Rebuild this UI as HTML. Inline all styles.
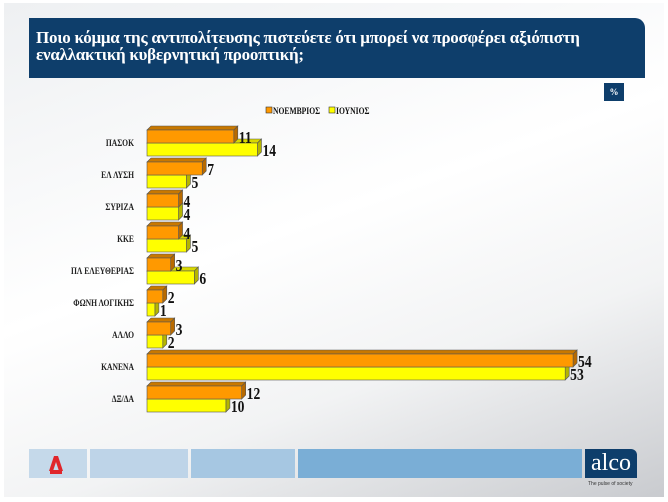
<!DOCTYPE html>
<html><head><meta charset="utf-8">
<style>
body{margin:0;width:668px;height:502px;overflow:hidden;background:#fff;font-family:"Liberation Serif",serif}
#slide{position:absolute;left:4px;top:3px;width:660px;height:494px;background:linear-gradient(160deg,#eef0f2 0%,#ffffff 45%,#f2f3f4 70%,#c9cbcf 100%)}
#title{position:absolute;left:29px;top:18px;width:616px;height:60px;background:#0e3e6b;border-top-right-radius:10px;color:#fff;font-weight:bold;font-size:17px;letter-spacing:-0.25px;line-height:17px;padding:11px 0 0 7px;box-sizing:border-box}
#pct{position:absolute;left:604px;top:83px;width:20px;height:18px;background:#0e3e6b;color:#fff;font-size:9px;font-weight:bold;text-align:center;line-height:18px}
.seg{position:absolute;top:449px;height:29px}
</style></head><body>
<div id="slide"></div>
<div id="title">Ποιο κόμμα της αντιπολίτευσης πιστεύετε ότι μπορεί να προσφέρει αξιόπιστη<br>εναλλακτική κυβερνητική προοπτική;</div>
<div id="pct">%</div>
<svg id="chart" width="668" height="502" style="position:absolute;left:0;top:0"></svg>
<div class="seg" style="left:29px;width:58px;background:#c5d9ea">
<svg width="58" height="29"><path d="M20 22 L25 7 L29 7 L34 22 L30 22 L27 13 L24 22Z" fill="#e0262b"/><rect x="21" y="21" width="12" height="4" fill="#e0262b"/></svg></div>
<div class="seg" style="left:90px;width:98px;background:#bed4e8"></div>
<div class="seg" style="left:191px;width:104px;background:#a6c7e2"></div>
<div class="seg" style="left:298px;width:284px;background:#7aaed6"></div>
<div class="seg" style="left:585px;width:52px;background:#0e3e6b;border-top-right-radius:6px;color:#fff;font-size:24px;text-align:center;line-height:28px">alco</div>
<div style="position:absolute;left:588px;top:481px;font-family:'Liberation Sans',sans-serif;font-size:5px;color:#333">The pulse of society</div>
<script>
const categories=["ΠΑΣΟΚ","ΕΛ ΛΥΣΗ","ΣΥΡΙΖΑ","ΚΚΕ","ΠΛ ΕΛΕΥΘΕΡΙΑΣ","ΦΩΝΗ ΛΟΓΙΚΗΣ","ΑΛΛΟ","ΚΑΝΕΝΑ","ΔΞ/ΔΑ"];
const november=[11,7,4,4,3,2,3,54,12];
const june=[14,5,4,5,6,1,2,53,10];
const seriesNames=["ΝΟΕΜΒΡΙΟΣ","ΙΟΥΝΙΟΣ"];
const svg=document.getElementById('chart');
const NS='http://www.w3.org/2000/svg';
const x0=147,scale=7.89,y0=143,step=32,bh=13,d=4;
const xv=v=>x0+v*scale;
const yc=i=>y0+i*step;
function mk(tag,attrs){const e=document.createElementNS(NS,tag);for(const k in attrs)e.setAttribute(k,attrs[k]);svg.appendChild(e);return e;}
function bar(v,top,front,side,topc,name,label){
  const x1=xv(v);
  const g1=mk('polygon',{points:`${x0},${top} ${x0+d},${top-d} ${x1+d},${top-d} ${x1},${top}`,fill:topc,stroke:'#555','stroke-width':0.6});
  
  const g2=mk('polygon',{points:`${x1},${top} ${x1+d},${top-d} ${x1+d},${top+bh-d} ${x1},${top+bh}`,fill:side,stroke:'#555','stroke-width':0.6});
  
  const r=mk('rect',{x:x0,y:top,width:x1-x0,height:bh,fill:front,stroke:'#555','stroke-width':0.6});
  
  const t=mk('text',{x:x1+d+1,y:top+bh,'font-size':17,'font-weight':'bold','font-family':'Liberation Serif, serif',fill:'#111',transform:`translate(${x1+d+1},0) scale(0.8,1) translate(${-(x1+d+1)},0)`});
  t.textContent=label;
  
}
categories.forEach((c,i)=>{
  const cy=yc(i);
  bar(june[i],cy,'#ffff00','#b5b500','#d8d800','bar-jun-'+i,june[i]);
  bar(november[i],cy-bh,'#ff9900','#b86a00','#c87800','bar-nov-'+i,november[i]);
  const t=mk('text',{x:134,y:cy+3,'text-anchor':'end','font-size':9.5,'font-weight':'bold','font-family':'Liberation Serif, serif',fill:'#222',transform:'translate(134,0) scale(0.8,1) translate(-134,0)'});
  t.textContent=c;
  
});
const lx=[266,329],colors=['#ff9900','#ffff00'];
seriesNames.forEach((n,i)=>{
  const r=mk('rect',{x:lx[i],y:107,width:6,height:6,fill:colors[i],stroke:'#333','stroke-width':0.6});
  
  const t=mk('text',{x:lx[i]+7,y:114,'font-size':9.5,'font-weight':'bold','font-family':'Liberation Serif, serif',fill:'#111',transform:`translate(${lx[i]+7},0) scale(0.8,1) translate(${-(lx[i]+7)},0)`});
  t.textContent=n;
  
});
</script>
</body></html>
